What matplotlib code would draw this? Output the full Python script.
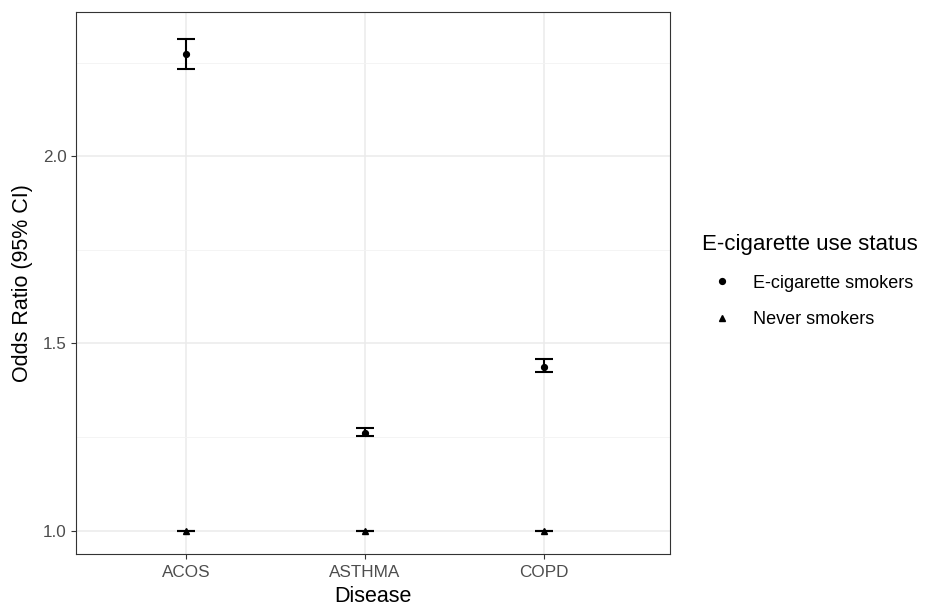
import matplotlib
matplotlib.use("Agg")
import matplotlib.pyplot as plt
from matplotlib.lines import Line2D
import numpy as np

diseases = ["ACOS", "ASTHMA", "COPD"]
ecig_or = [2.273, 1.262, 1.437]
ecig_lo = [2.233, 1.253, 1.424]
ecig_hi = [2.313, 1.273, 1.459]
never_or = [1.0, 1.0, 1.0]
never_lo = [1.0, 1.0, 1.0]
never_hi = [1.0, 1.0, 1.0]
yticks = [1.0, 1.5, 2.0]
yminor = [1.25, 1.75, 2.25]

plt.rcParams['font.family'] = ['Liberation Sans', 'DejaVu Sans']

fig = plt.figure(figsize=(9.26, 6.07), dpi=100)
ax = fig.add_axes([76/926, 1-553.5/607, (670-76)/926, (553.5-11.7)/607])

x = np.arange(1, len(diseases)+1)

for vals, lo, hi, mk, ms in [(never_or, never_lo, never_hi, '^', 4.0),
                              (ecig_or, ecig_lo, ecig_hi, 'o', 4.2)]:
    vals = np.array(vals); lo = np.array(lo); hi = np.array(hi)
    ax.errorbar(x, vals, yerr=[vals-lo, hi-vals], fmt='none', ecolor='black',
                elinewidth=1.5, capsize=6.8, capthick=1.5, zorder=3)
    ax.plot(x, vals, linestyle='none', marker=mk, color='black', markersize=ms, zorder=4)

ax.set_xlim(1-110/179.2, 3+126/179.2)
ax.set_ylim(0.939, 2.386)
ax.set_xticks(x)
ax.set_xticklabels(diseases)
ax.set_yticks(yticks)
ax.set_yticklabels([f"{v:.1f}" for v in yticks])
ax.set_yticks(yminor, minor=True)
ax.tick_params(axis='y', which='minor', length=0)
ax.tick_params(axis='both', which='major', length=3.6, width=0.8, color='#333333',
               labelsize=12.3, labelcolor='#4d4d4d')
ax.tick_params(axis='x', which='major', pad=5)
ax.tick_params(axis='y', which='major', pad=3)

ax.grid(True, which='major', color='#ebebeb', linewidth=1.1, zorder=0)
ax.grid(True, which='minor', axis='y', color='#f3f3f3', linewidth=0.6, zorder=0)
ax.set_axisbelow(True)
for s in ax.spines.values():
    s.set_color('#333333')
    s.set_linewidth(0.8)

ax.set_xlabel("Disease", fontsize=15.5, color='black', labelpad=4)
ax.set_ylabel("Odds Ratio (95% CI)", fontsize=15.5, color='black', labelpad=7)

handles = [Line2D([], [], linestyle='none', marker='o', color='black', markersize=4.2),
           Line2D([], [], linestyle='none', marker='^', color='black', markersize=4.0)]
leg = fig.legend(handles, ["E-cigarette smokers", "Never smokers"],
                 title="E-cigarette use status", loc='upper left',
                 bbox_to_anchor=(695/926, 1-227/607), frameon=False,
                 fontsize=13, title_fontsize=16, handlelength=2.2,
                 handletextpad=0.6, labelspacing=1.08, borderaxespad=0)
leg._legend_box.align = "left"

fig.savefig("out.png", dpi=100)
